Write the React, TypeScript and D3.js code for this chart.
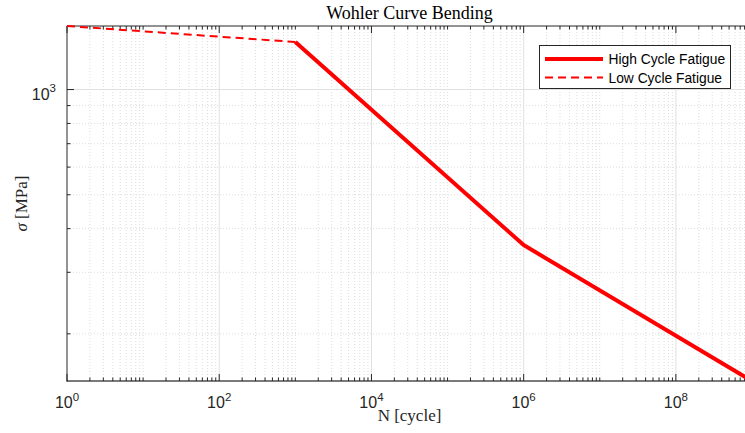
import React from "react";
import * as d3 from "d3";

const lowCycleN = [1, 1e3];
const lowCycleS = [1520, 1368];
const highCycleN = [1e3, 1e6, 1e9];
const highCycleS = [1368, 359, 146.6];

const xMajorExp = [0, 2, 4, 6, 8];
const xMinorMult = [2, 3, 4, 5, 6, 7, 8, 9];
const xDecades = [0, 1, 2, 3, 4, 5, 6, 7, 8];
const yMajorTicks = [1000];
const yMinorTicks = [200, 300, 400, 500, 600, 700, 800, 900];

const W = 745;
const H = 433;
const L = 67;
const T = 26;
const B = 381;
const RFull = 752;

export default function App() {
  const allS = [...lowCycleS, ...highCycleS];
  const x = d3.scaleLog().domain([1, 1e9]).range([L, RFull]);
  const y = d3
    .scaleLog()
    .domain([d3.min(allS) as number, d3.max(allS) as number])
    .range([B, T]);

  const xMajor = xMajorExp.map((e) => Math.pow(10, e));
  const xMinor: number[] = [];
  xDecades.forEach((d) => {
    if (d % 2 === 1) xMinor.push(Math.pow(10, d));
    xMinorMult.forEach((k) => xMinor.push(k * Math.pow(10, d)));
  });

  const line = d3
    .line<[number, number]>()
    .x((d) => x(d[0]))
    .y((d) => y(d[1]));

  const lowPts = lowCycleN.map((n, i) => [n, lowCycleS[i]] as [number, number]);
  const highPts = highCycleN.map((n, i) => [n, highCycleS[i]] as [number, number]);

  const sans = "'Liberation Sans', Arial, Helvetica, sans-serif";
  const serif = "'Liberation Serif', 'Times New Roman', serif";
  const axisCol = "#262626";

  return (
    <svg
      width={W}
      height={H}
      style={{ position: "fixed", left: 0, top: 0, background: "#fff" }}
    >
      <defs>
        <clipPath id="plotclip">
          <rect x={L} y={T - 3} width={W - L} height={B - T + 6} />
        </clipPath>
      </defs>
      <rect x={0} y={0} width={W} height={H} fill="#fff" />
      <g clipPath="url(#plotclip)">
        {xMinor.map((v, i) => (
          <line
            key={"xm" + i}
            x1={x(v)}
            x2={x(v)}
            y1={T}
            y2={B}
            stroke="#d4d4d4"
            strokeWidth={0.8}
            strokeDasharray="1,2"
          />
        ))}
        {yMinorTicks.map((v, i) => (
          <line
            key={"ym" + i}
            x1={L}
            x2={W}
            y1={y(v)}
            y2={y(v)}
            stroke="#d4d4d4"
            strokeWidth={0.8}
            strokeDasharray="1,2"
          />
        ))}
        {xMajor.slice(1).map((v, i) => (
          <line
            key={"xM" + i}
            x1={x(v)}
            x2={x(v)}
            y1={T}
            y2={B}
            stroke="#e0e0e0"
            strokeWidth={1}
          />
        ))}
        {yMajorTicks.map((v, i) => (
          <line
            key={"yM" + i}
            x1={L}
            x2={W}
            y1={y(v)}
            y2={y(v)}
            stroke="#e0e0e0"
            strokeWidth={1}
          />
        ))}
      </g>
      <line x1={L} x2={W} y1={T} y2={T} stroke={axisCol} strokeWidth={1} />
      <line x1={L} x2={W} y1={B} y2={B} stroke="#7a7a7a" strokeWidth={2} />
      <line x1={L} x2={L} y1={T} y2={B + 1} stroke={axisCol} strokeWidth={1} />
      {xMinor.map((v, i) => (
        <g key={"xt" + i}>
          <line x1={x(v)} x2={x(v)} y1={B} y2={B - 3.5} stroke={axisCol} strokeWidth={1} />
          <line x1={x(v)} x2={x(v)} y1={T} y2={T + 3.5} stroke={axisCol} strokeWidth={1} />
        </g>
      ))}
      {xMajor.map((v, i) => (
        <g key={"xT" + i}>
          <line x1={x(v)} x2={x(v)} y1={B} y2={B - 7} stroke={axisCol} strokeWidth={1} />
          <line x1={x(v)} x2={x(v)} y1={T} y2={T + 7} stroke={axisCol} strokeWidth={1} />
          <text
            x={x(v)}
            y={408}
            textAnchor="middle"
            fontFamily={sans}
            fontSize={16}
            fill={axisCol}
          >
            10
            <tspan fontSize={11.5} dy={-7.5}>
              {xMajorExp[i]}
            </tspan>
          </text>
        </g>
      ))}
      {yMinorTicks.map((v, i) => (
        <line key={"yt" + i} x1={L} x2={L + 3.5} y1={y(v)} y2={y(v)} stroke={axisCol} strokeWidth={1} />
      ))}
      {yMajorTicks.map((v, i) => (
        <g key={"yT" + i}>
          <line x1={L} x2={L + 7} y1={y(v)} y2={y(v)} stroke={axisCol} strokeWidth={1} />
          <text
            x={56}
            y={y(v) + 10}
            textAnchor="end"
            fontFamily={sans}
            fontSize={16}
            fill={axisCol}
          >
            10
            <tspan fontSize={11.5} dy={-7.5}>
              {Math.round(Math.log10(v))}
            </tspan>
          </text>
        </g>
      ))}
      <g clipPath="url(#plotclip)">
        <path
          d={line(lowPts) || ""}
          fill="none"
          stroke="#ff0000"
          strokeWidth={2}
          strokeDasharray="8,5"
        />
        <path
          d={line(highPts) || ""}
          fill="none"
          stroke="#ff0000"
          strokeWidth={4}
          strokeLinejoin="round"
        />
      </g>
      <text
        x={(L + RFull) / 2}
        y={19}
        textAnchor="middle"
        fontFamily={serif}
        fontSize={18}
        fill="#000"
      >
        Wohler Curve Bending
      </text>
      <text
        x={(L + RFull) / 2}
        y={421}
        textAnchor="middle"
        fontFamily={serif}
        fontSize={17}
        fill="#262626"
      >
        N [cycle]
      </text>
      <text
        transform={`translate(27, ${(T + B) / 2}) rotate(-90)`}
        textAnchor="middle"
        fontFamily={serif}
        fontSize={17}
        fill="#262626"
      >
        <tspan fontStyle="italic">σ</tspan> [MPa]
      </text>
      <g>
        <rect x={539.5} y={45.5} width={191} height={43} fill="#fff" stroke={axisCol} strokeWidth={1} />
        <line x1={545} x2={603} y1={59} y2={59} stroke="#ff0000" strokeWidth={4} />
        <line x1={545} x2={603} y1={77.5} y2={77.5} stroke="#ff0000" strokeWidth={2} strokeDasharray="8,5" />
        <text x={608.5} y={63.5} fontFamily={sans} fontSize={13.8} fill="#000">
          High Cycle Fatigue
        </text>
        <text x={608.5} y={82.5} fontFamily={sans} fontSize={13.8} fill="#000">
          Low Cycle Fatigue
        </text>
      </g>
    </svg>
  );
}
